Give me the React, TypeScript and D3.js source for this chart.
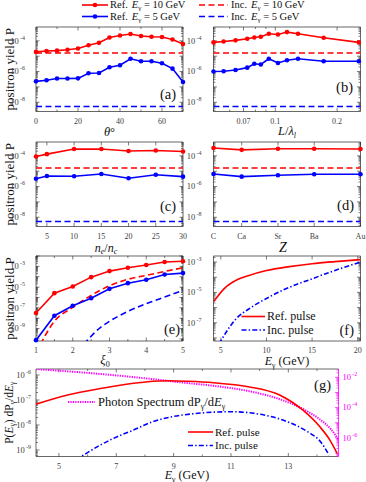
import React from "react"
import * as d3 from "d3"

const RED = "#ff0000"
const BLUE = "#0000ff"
const MAG = "#ff00ff"
const AX = "#262626"
const TXT = "#404040"
const FONT = "'Liberation Serif', 'Times New Roman', serif"

// (a) angle scan
const thetaDeg = [0, 5, 10, 15, 20, 25, 30, 35, 40, 45, 50, 55, 60, 65, 70]
const thetaRef10 = [1.9e-5, 2.2e-5, 2.3e-5, 2.6e-5, 3.2e-5, 5.2e-5, 7.4e-5, 1.66e-4, 2.24e-4, 2.75e-4, 2.04e-4, 1.86e-4, 1.78e-4, 1.23e-4, 6.2e-5]
const thetaRef5 = [2.3e-7, 2.7e-7, 3.5e-7, 3.5e-7, 3.6e-7, 7.8e-7, 8.1e-7, 1.9e-6, 2.6e-6, 6.8e-6, 4.7e-6, 4.7e-6, 3.5e-6, 1.55e-6, 2.1e-7]

// (b) target thickness scan
const thickL = [0.05, 0.056, 0.064, 0.073, 0.079, 0.085, 0.093, 0.103, 0.114, 0.129, 0.172, 0.255]
const thickRef10 = [7.9e-5, 9.1e-5, 1.07e-4, 1.35e-4, 1.66e-4, 1.86e-4, 2.9e-4, 2.6e-4, 3.7e-4, 2.9e-4, 1.6e-4, 7.9e-5]
const thickRef5 = [1.0e-6, 1.05e-6, 1.26e-6, 1.8e-6, 3.2e-6, 2.9e-6, 6.8e-6, 3.6e-6, 5.5e-6, 6.8e-6, 4.7e-6, 4.7e-6]

// (c) density scan
const density = [3, 5, 10, 15, 20, 25, 30]
const densRef10 = [9.1e-5, 1.29e-4, 2.75e-4, 2.75e-4, 2.04e-4, 2.24e-4, 1.9e-4]
const densRef5 = [3.2e-6, 4.9e-6, 4.7e-6, 6.6e-6, 3.5e-6, 5.8e-6, 4.4e-6]

// (d) target material
const elemZ = [6, 20, 38, 56, 79]
const elemNames = ["C", "Ca", "Sr", "Ba", "Au"]
const elemRef10 = [3.2e-4, 2.45e-4, 2.9e-4, 2.9e-4, 2.75e-4]
const elemRef5 = [6.6e-6, 4.4e-6, 5.5e-6, 6.3e-6, 6.3e-6]

// incoherent reference levels (a-d)
const incYield10 = 1.6e-5
const incYield5 = 5.3e-9

// (e) laser amplitude scan
const xi0 = [1, 1.5, 2, 2.5, 3, 3.5, 4, 4.5, 5]
const xiRef10 = [3.2e-8, 2.6e-6, 1.15e-5, 9.1e-5, 3.5e-4, 7.4e-4, 1.35e-3, 2.6e-3, 3.1e-3]
const xiRef5 = [7.6e-11, 1.74e-8, 1.6e-7, 8.3e-7, 6.8e-6, 2.4e-5, 5.1e-5, 1.66e-4, 2.24e-4]
const xiInc10X = [1.12, 1.5, 2, 2.5, 3, 3.5, 4, 4.5, 5]
const xiInc10 = [3e-11, 5e-9, 1.1e-7, 1.6e-6, 1.35e-5, 5.6e-5, 1.35e-4, 3.2e-4, 7.4e-4]
const xiInc5X = [2.3, 2.75, 3, 3.5, 4, 4.5, 5]
const xiInc5 = [3e-11, 1.26e-9, 5e-9, 4.5e-8, 2.5e-7, 1.1e-6, 4.7e-6]

// (f) yield vs photon energy
const fRefE = [4.2, 5.4, 6.9, 8, 10, 12.5, 15, 17.5, 20.3]
const fRef = [2.4e-6, 1.86e-5, 7.4e-5, 1.26e-4, 2.75e-4, 5e-4, 7.8e-4, 1.07e-3, 1.45e-3]
const fIncE = [4.8, 6.5, 8.4, 10, 12, 15, 17.5, 20.3]
const fInc = [4e-9, 1.4e-7, 1.1e-6, 4e-6, 1.6e-5, 7.9e-5, 2.8e-4, 1e-3]

// (g) differential yield and photon spectrum
const gRefE = [4.2, 5.3, 6.5, 7.6, 8.8, 9.5, 10.4, 11.6, 12.7, 13.5, 14.1, 14.45, 14.7]
const gRef = [6.8e-8, 1.58e-7, 2.95e-7, 4.7e-7, 5.9e-7, 5.6e-7, 4.9e-7, 3.4e-7, 1.58e-7, 4e-8, 8.5e-9, 2.5e-9, 7.4e-10]
const gIncE = [5.6, 6.45, 7.03, 7.6, 8.2, 9.3, 11, 12.16, 12.97, 13.67, 14.13, 14.42]
const gInc = [4e-10, 1.6e-9, 3.4e-9, 6.3e-9, 1.26e-8, 2.5e-8, 3.4e-8, 2.5e-8, 1.35e-8, 5.4e-9, 2.1e-9, 6.3e-10]
const gSpecE = [4.2, 6.46, 8.2, 9.23, 10.4, 11.56, 12.72, 13.53, 14.1, 14.5, 14.74]
const gSpec = [3.5e-2, 1.66e-2, 7.9e-3, 4.7e-3, 2.75e-3, 1.29e-3, 3.5e-4, 7.8e-5, 1.66e-5, 3.5e-6, 7.9e-7]

// layout
const colL: [number, number] = [36, 183]
const colR: [number, number] = [213.5, 360.5]
const row1: [number, number] = [27, 111.5]
const row2: [number, number] = [142, 226.5]
const row3: [number, number] = [256, 341]
const gX: [number, number] = [36, 338.5]
const gY: [number, number] = [369, 456.5]

type Sc = (v: number) => number

function decadeTicks(domain: number[]) {
  const lo = Math.min(...domain), hi = Math.max(...domain)
  const major: number[] = [], minor: number[] = []
  for (let e = Math.floor(Math.log10(lo)); e <= Math.ceil(Math.log10(hi)); e++) {
    for (let k = 1; k < 10; k++) {
      const v = k * Math.pow(10, e)
      if (v < lo * 0.999 || v > hi * 1.001) continue
      if (k === 1) major.push(v)
      else minor.push(v)
    }
  }
  return { major, minor }
}

function Pow({ x, y, e, anchor, color }: any) {
  return (
    <text x={x} y={y} dy="0.33em" textAnchor={anchor} fontSize={8.5} fill={color}>
      10<tspan dx={1.2} dy={-4} fontSize={6}>-{e}</tspan>
    </text>
  )
}

function Frame(p: {
  xr: [number, number]; yr: [number, number]; xs: Sc; ys: Sc
  xMajor: number[]; xLabels: string[]; xMinor?: number[]
  yDomain: number[]; yExp: number[]; yGap?: number; noRight?: boolean
}) {
  const [x0, x1] = p.xr
  const [y0, y1] = p.yr
  const T = 3.5, t = 2
  let d = ""
  p.xMajor.forEach((v) => {
    const x = p.xs(v)
    d += `M${x},${y1}v${-T}M${x},${y0}v${T}`
  })
  ;(p.xMinor || []).forEach((v) => {
    const x = p.xs(v)
    d += `M${x},${y1}v${-t}M${x},${y0}v${t}`
  })
  const yt = decadeTicks(p.yDomain)
  yt.major.forEach((v) => {
    const y = p.ys(v)
    d += `M${x0},${y}h${T}`
    if (!p.noRight) d += `M${x1},${y}h${-T}`
  })
  yt.minor.forEach((v) => {
    const y = p.ys(v)
    d += `M${x0},${y}h${t}`
    if (!p.noRight) d += `M${x1},${y}h${-t}`
  })
  const gap = p.yGap ?? 11
  return (
    <g>
      <path d={d} stroke={AX} strokeWidth={0.6} fill="none" />
      <path
        d={p.noRight ? `M${x1},${y0}H${x0}V${y1}H${x1}` : `M${x0},${y0}H${x1}V${y1}H${x0}Z`}
        stroke={AX} strokeWidth={0.7} fill="none"
      />
      {p.xMajor.map((v, i) => (
        <text key={"xl" + i} x={p.xs(v)} y={y1 + 12} textAnchor="middle" fontSize={8} fill={TXT}>
          {p.xLabels[i]}
        </text>
      ))}
      {p.yExp.map((e) => (
        <Pow key={"yl" + e} x={x0 - gap} y={p.ys(Math.pow(10, e))} e={-e} anchor="end" color={TXT} />
      ))}
    </g>
  )
}

function Series(p: {
  xs: Sc; ys: Sc; x: number[]; y: number[]; color: string
  dash?: string; marker?: boolean; smooth?: boolean; clip?: string; width?: number
}) {
  const line = d3
    .line<number>()
    .x((_, i) => p.xs(p.x[i]))
    .y((v) => p.ys(v))
    .curve(p.smooth ? d3.curveMonotoneX : d3.curveLinear)
  return (
    <g>
      <path
        d={line(p.y) || ""}
        fill="none"
        stroke={p.color}
        strokeWidth={p.width ?? 1.6}
        strokeDasharray={p.dash}
        clipPath={p.clip ? `url(#${p.clip})` : undefined}
      />
      {p.marker && p.y.map((v, i) => <circle key={i} cx={p.xs(p.x[i])} cy={p.ys(v)} r={2.3} fill={p.color} />)}
    </g>
  )
}

const DASH = "6,3.5"
const DASHDOT = "5,2.2,1.4,2.2"
const DOT = "1.3,1.1"

function PanelTag({ x, y, s }: { x: number; y: number; s: string }) {
  return (
    <text x={x} y={y} textAnchor="end" fontSize={14.5} fill="#111">
      {s}
    </text>
  )
}

function Egamma({ x, y, size = 12 }: { x: number; y: number; size?: number }) {
  return (
    <text x={x} y={y} textAnchor="middle" fontSize={size} fill="#111">
      <tspan fontStyle="italic">E</tspan>
      <tspan dy={2.5} fontSize={size * 0.65}>γ</tspan>
      <tspan dy={-2.5}> (GeV)</tspan>
    </text>
  )
}

export default function App() {
  const yP1 = d3.scaleLog().domain([2.51e-9, 7.94e-4]).range([row1[1], row1[0]])
  const yP2 = d3.scaleLog().domain([2.51e-9, 7.94e-4]).range([row2[1], row2[0]])
  const pDom = [2.51e-9, 7.94e-4]

  const xA = d3.scaleLinear().domain([0, 70]).range(colL)
  const xB = d3.scaleLog().domain([0.05, 0.26]).range(colR)
  const xC = d3.scaleLinear().domain([3, 30]).range(colL)
  const xD = d3.scaleLinear().domain([6, 79]).range(colR)

  const xE = d3.scaleLinear().domain([1, 5]).range(colL)
  const eDom = [6.3e-11, 1e-2]
  const yE = d3.scaleLog().domain(eDom).range([row3[1], row3[0]])
  const xF = d3.scaleLinear().domain([4.2, 20.3]).range(colR)
  const fDom = [6.3e-9, 2.5e-3]
  const yF = d3.scaleLog().domain(fDom).range([row3[1], row3[0]])

  const xG = d3.scaleLinear().domain([4.2, 14.75]).range(gX)
  const gDomL = [5.5e-10, 1.74e-6]
  const yG = d3.scaleLog().domain(gDomL).range([gY[1], gY[0]])
  const gDomR = [5.9e-8, 3.55e-2]
  const yGR = d3.scaleLog().domain(gDomR).range([gY[1], gY[0]])

  const incLines = (xs: Sc, dom: number[], ys: Sc) => (
    <g>
      <Series xs={xs} ys={ys} x={dom} y={[incYield10, incYield10]} color={RED} dash={DASH} />
      <Series xs={xs} ys={ys} x={dom} y={[incYield5, incYield5]} color={BLUE} dash={DASH} />
    </g>
  )

  const gRight = decadeTicks(gDomR)
  let gRightPath = ""
  gRight.major.forEach((v) => (gRightPath += `M${gX[1]},${yGR(v)}h-3.5`))
  gRight.minor.forEach((v) => (gRightPath += `M${gX[1]},${yGR(v)}h-2`))

  const clipRect = (id: string, xr: number[], yr: number[]) => (
    <clipPath id={id}>
      <rect x={xr[0]} y={yr[0]} width={xr[1] - xr[0]} height={yr[1] - yr[0]} />
    </clipPath>
  )

  const legRow = (y: number, color: string, val: string) => (
    <g>
      <line x1={82} x2={108} y1={y} y2={y} stroke={color} strokeWidth={1.6} />
      <circle cx={95} cy={y} r={2.3} fill={color} />
      <text x={110} y={y} dy="0.33em" fontSize={10.5} fill="#111">
        Ref.<tspan dx={4} fontStyle="italic">E</tspan>
        <tspan dy={2} fontSize={7}>γ</tspan>
        <tspan dy={-2}>{" = " + val + " GeV"}</tspan>
      </text>
      <line x1={199} x2={228} y1={y} y2={y} stroke={color} strokeWidth={1.6} strokeDasharray={DASH} />
      <text x={231} y={y} dy="0.33em" fontSize={10.5} fill="#111">
        Inc.<tspan dx={4} fontStyle="italic">E</tspan>
        <tspan dy={2} fontSize={7}>γ</tspan>
        <tspan dy={-2}>{" = " + val + " GeV"}</tspan>
      </text>
    </g>
  )

  return (
    <svg width={366} height={482} fontFamily={FONT} style={{ position: "absolute", left: 0, top: 0, background: "#fff" }}>
      <defs>
        {clipRect("cpE", colL, row3)}
        {clipRect("cpF", colR, row3)}
        {clipRect("cpG", gX, gY)}
      </defs>

      {legRow(5, RED, "10")}
      {legRow(16.5, BLUE, "5")}

      {/* y titles */}
      {[row1, row2, row3].map((r, i) => (
        <text key={i} transform={`translate(13.5,${(r[0] + r[1]) / 2}) rotate(-90)`} textAnchor="middle" fontSize={13} fill="#111">
          positron yield P
        </text>
      ))}

      {/* (a) */}
      <Frame xr={colL} yr={row1} xs={xA} ys={yP1} xMajor={[0, 20, 40, 60]} xLabels={["0", "20", "40", "60"]} xMinor={[10, 30, 50, 70]} yDomain={pDom} yExp={[-4, -6, -8]} />
      {incLines(xA, [0, 70], yP1)}
      <Series xs={xA} ys={yP1} x={thetaDeg} y={thetaRef10} color={RED} marker />
      <Series xs={xA} ys={yP1} x={thetaDeg} y={thetaRef5} color={BLUE} marker />
      <PanelTag x={176} y={99} s="(a)" />
      <text x={109.5} y={136} textAnchor="middle" fontSize={12.5} fill="#111">
        <tspan fontStyle="italic">θ</tspan>°
      </text>

      {/* (b) */}
      <Frame xr={colR} yr={row1} xs={xB} ys={yP1} xMajor={[0.07, 0.1, 0.2]} xLabels={["0.07", "0.1", "0.2"]} xMinor={[0.05, 0.06, 0.08, 0.09]} yDomain={pDom} yExp={[-4, -6, -8]} yGap={12} />
      {incLines(xB, [0.05, 0.26], yP1)}
      <Series xs={xB} ys={yP1} x={thickL} y={thickRef10} color={RED} marker />
      <Series xs={xB} ys={yP1} x={thickL} y={thickRef5} color={BLUE} marker />
      <PanelTag x={353} y={92} s="(b)" />
      <text x={287} y={135} textAnchor="middle" fontSize={12.5} fill="#111">
        <tspan fontStyle="italic">L</tspan>/<tspan fontStyle="italic">λ</tspan>
        <tspan dy={2.5} fontSize={8} fontStyle="italic">l</tspan>
      </text>

      {/* (c) */}
      <Frame xr={colL} yr={row2} xs={xC} ys={yP2} xMajor={[5, 10, 15, 20, 25, 30]} xLabels={["5", "10", "15", "20", "25", "30"]} yDomain={pDom} yExp={[-4, -6, -8]} />
      {incLines(xC, [3, 30], yP2)}
      <Series xs={xC} ys={yP2} x={density} y={densRef10} color={RED} marker />
      <Series xs={xC} ys={yP2} x={density} y={densRef5} color={BLUE} marker />
      <PanelTag x={176} y={211} s="(c)" />
      <text x={106} y={251.5} textAnchor="middle" fontSize={12} fill="#111">
        <tspan fontStyle="italic">n</tspan>
        <tspan dy={2.5} fontSize={8} fontStyle="italic">e</tspan>
        <tspan dy={-2.5}>/</tspan>
        <tspan fontStyle="italic">n</tspan>
        <tspan dy={2.5} fontSize={8} fontStyle="italic">c</tspan>
      </text>

      {/* (d) */}
      <Frame xr={colR} yr={row2} xs={xD} ys={yP2} xMajor={elemZ} xLabels={elemNames} yDomain={pDom} yExp={[-4, -6, -8]} yGap={12} />
      {incLines(xD, [6, 79], yP2)}
      <Series xs={xD} ys={yP2} x={elemZ} y={elemRef10} color={RED} marker />
      <Series xs={xD} ys={yP2} x={elemZ} y={elemRef5} color={BLUE} marker />
      <PanelTag x={354} y={210} s="(d)" />
      <text x={283} y={252} textAnchor="middle" fontSize={14} fontStyle="italic" fill="#111">
        Z
      </text>

      {/* (e) */}
      <Frame xr={colL} yr={row3} xs={xE} ys={yE} xMajor={[1, 2, 3, 4, 5]} xLabels={["1", "2", "3", "4", "5"]} xMinor={[1.5, 2.5, 3.5, 4.5]} yDomain={eDom} yExp={[-3, -5, -7, -9]} />
      <Series xs={xE} ys={yE} x={xiInc10X} y={xiInc10} color={RED} dash={DASH} smooth clip="cpE" />
      <Series xs={xE} ys={yE} x={xiInc5X} y={xiInc5} color={BLUE} dash={DASH} smooth clip="cpE" />
      <Series xs={xE} ys={yE} x={xi0} y={xiRef10} color={RED} marker />
      <Series xs={xE} ys={yE} x={xi0} y={xiRef5} color={BLUE} marker />
      <PanelTag x={180} y={334} s="(e)" />
      <text x={105} y={364} textAnchor="middle" fontSize={12.5} fill="#111">
        <tspan fontStyle="italic">ξ</tspan>
        <tspan dy={2.5} fontSize={8}>0</tspan>
      </text>

      {/* (f) */}
      <Frame xr={colR} yr={row3} xs={xF} ys={yF} xMajor={[5, 10, 15, 20]} xLabels={["5", "10", "15", "20"]} yDomain={fDom} yExp={[-3, -5, -7]} yGap={12} />
      <Series xs={xF} ys={yF} x={fRefE} y={fRef} color={RED} smooth clip="cpF" />
      <Series xs={xF} ys={yF} x={fIncE} y={fInc} color={BLUE} dash={DASHDOT} smooth clip="cpF" />
      <line x1={241.5} x2={265} y1={316.5} y2={316.5} stroke={RED} strokeWidth={1.6} />
      <text x={267} y={316.5} dy="0.33em" fontSize={12} fill="#111">Ref. pulse</text>
      <line x1={241.5} x2={265} y1={330} y2={330} stroke={BLUE} strokeWidth={1.6} strokeDasharray={DASHDOT} />
      <text x={267} y={330} dy="0.33em" fontSize={12} fill="#111">Inc. pulse</text>
      <PanelTag x={354} y={335} s="(f)" />
      <Egamma x={287} y={365} />

      {/* (g) */}
      <Frame xr={gX} yr={gY} xs={xG} ys={yG} xMajor={[5, 7, 9, 11, 13]} xLabels={["5", "7", "9", "11", "13"]} xMinor={[6, 8, 10, 12, 14]} yDomain={gDomL} yExp={[-6, -7, -8, -9]} yGap={5} noRight />
      <line x1={gX[1]} x2={gX[1]} y1={gY[0]} y2={gY[1]} stroke={MAG} strokeWidth={0.8} />
      <path d={gRightPath} stroke={MAG} strokeWidth={0.7} fill="none" />
      {[-2, -4, -6].map((e) => (
        <Pow key={"gr" + e} x={gX[1] + 4} y={yGR(Math.pow(10, e))} e={-e} anchor="start" color={MAG} />
      ))}
      <Series xs={xG} ys={yGR} x={gSpecE} y={gSpec} color={MAG} dash={DOT} width={2} smooth clip="cpG" />
      <Series xs={xG} ys={yG} x={gRefE} y={gRef} color={RED} smooth clip="cpG" />
      <Series xs={xG} ys={yG} x={gIncE} y={gInc} color={BLUE} dash={DASHDOT} smooth clip="cpG" />
      <line x1={68} x2={95} y1={402} y2={402} stroke={MAG} strokeWidth={2} strokeDasharray={DOT} />
      <text x={98} y={402} dy="0.33em" fontSize={12.5} fill="#111">
        Photon Spectrum dP<tspan dy={2.5} fontSize={8}>γ</tspan>
        <tspan dy={-2.5}>/d</tspan>
        <tspan fontStyle="italic">E</tspan>
        <tspan dy={2.5} fontSize={8}>γ</tspan>
      </text>
      <line x1={188} x2={213} y1={432} y2={432} stroke={RED} strokeWidth={1.6} />
      <text x={215} y={432} dy="0.33em" fontSize={11} fill="#111">Ref. pulse</text>
      <line x1={188} x2={213} y1={445.5} y2={445.5} stroke={BLUE} strokeWidth={1.6} strokeDasharray={DASHDOT} />
      <text x={215} y={445.5} dy="0.33em" fontSize={11} fill="#111">Inc. pulse</text>
      <PanelTag x={331} y={390} s="(g)" />
      <Egamma x={187} y={479} />
      <text transform={`translate(13,${(gY[0] + gY[1]) / 2}) rotate(-90)`} textAnchor="middle" fontSize={11.5} fill="#111">
        P(<tspan fontStyle="italic">E</tspan>
        <tspan dy={2} fontSize={7.5}>γ</tspan>
        <tspan dy={-2}>) dP</tspan>
        <tspan dy={2} fontSize={7.5}>γ</tspan>
        <tspan dy={-2}>/d</tspan>
        <tspan fontStyle="italic">E</tspan>
        <tspan dy={2} fontSize={7.5}>γ</tspan>
      </text>
    </svg>
  )
}
